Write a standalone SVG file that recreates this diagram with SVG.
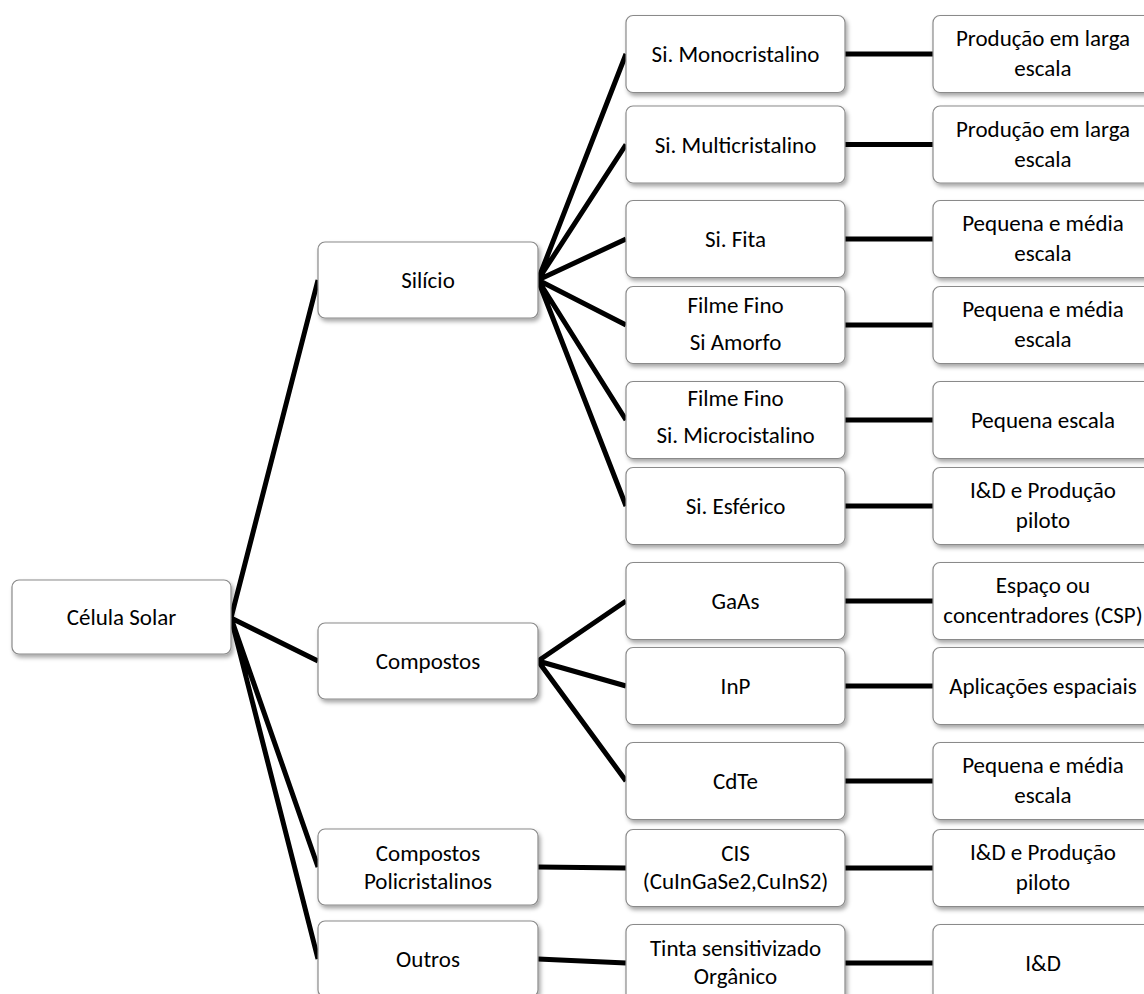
<svg xmlns="http://www.w3.org/2000/svg" width="1144" height="994" viewBox="0 0 1144 994">
<defs>
<filter id="sh" x="-10%" y="-10%" width="125%" height="130%">
<feDropShadow dx="2" dy="3" stdDeviation="2" flood-color="#000" flood-opacity="0.35"/>
</filter>
<style>
.box{fill:#fff;stroke:#8a8a8a;stroke-width:1.2;filter:url(#sh)}
.t{font-family:Carlito,Lato,"Liberation Sans",sans-serif;font-size:23px;fill:#000;text-anchor:middle}
.c{stroke:#000;stroke-width:5;fill:none;stroke-linecap:butt}
</style>
</defs>
<rect width="1144" height="994" fill="#fff"/>
<g id="connectors">
<path class="c" d="M231 618L318 280M231 618L318 661M231 618L318 867M231 618L318 959"/>
<path class="c" d="M538 280L626 54M538 280L626 144.5M538 280L626 239M538 280L626 325M538 280L626 420M538 280L626 506"/>
<path class="c" d="M538 661L626 601M538 661L626 686M538 661L626 781"/>
<path class="c" d="M538 867L626 868M538 959L626 963"/>
<path class="c" d="M845 54H933M845 144.5H933M845 239H933M845 325H933M845 420H933M845 506H933M845 601H933M845 686H933M845 781H933M845 868H933M845 963H933"/>
</g>
<g id="celula"><rect class="box" x="12" y="580" width="219" height="74" rx="7"/><text class="t" x="121.5" y="625">Célula Solar</text></g>
<g id="silicio"><rect class="box" x="318" y="242" width="220" height="76" rx="7"/><text class="t" x="428" y="288">Silício</text></g>
<g id="compostos"><rect class="box" x="318" y="623" width="220" height="76" rx="7"/><text class="t" x="428" y="669">Compostos</text></g>
<g id="compostos-poli"><rect class="box" x="318" y="829" width="220" height="76" rx="7"/><text class="t" x="428" y="861">Compostos</text><text class="t" x="428" y="889">Policristalinos</text></g>
<g id="outros"><rect class="box" x="318" y="921" width="220" height="76" rx="7"/><text class="t" x="428" y="967">Outros</text></g>

<g id="mono"><rect class="box" x="626" y="15.5" width="219" height="77" rx="7"/><text class="t" x="735.5" y="62">Si. Monocristalino</text></g>
<g id="multi"><rect class="box" x="626" y="106" width="219" height="77" rx="7"/><text class="t" x="735.5" y="152.5">Si. Multicristalino</text></g>
<g id="fita"><rect class="box" x="626" y="200.5" width="219" height="77" rx="7"/><text class="t" x="735.5" y="247">Si. Fita</text></g>
<g id="amorfo"><rect class="box" x="626" y="286.5" width="219" height="77" rx="7"/><text class="t" x="735.5" y="313">Filme Fino</text><text class="t" x="735.5" y="350">Si Amorfo</text></g>
<g id="micro"><rect class="box" x="626" y="381.5" width="219" height="77" rx="7"/><text class="t" x="735.5" y="406">Filme Fino</text><text class="t" x="735.5" y="443">Si. Microcistalino</text></g>
<g id="esferico"><rect class="box" x="626" y="467.5" width="219" height="77" rx="7"/><text class="t" x="735.5" y="514">Si. Esférico</text></g>
<g id="gaas"><rect class="box" x="626" y="562.5" width="219" height="77" rx="7"/><text class="t" x="735.5" y="609">GaAs</text></g>
<g id="inp"><rect class="box" x="626" y="647.5" width="219" height="77" rx="7"/><text class="t" x="735.5" y="694">InP</text></g>
<g id="cdte"><rect class="box" x="626" y="742.5" width="219" height="77" rx="7"/><text class="t" x="735.5" y="789">CdTe</text></g>
<g id="cis"><rect class="box" x="626" y="829.5" width="219" height="77" rx="7"/><text class="t" x="735.5" y="861">CIS</text><text class="t" x="735.5" y="889">(CuInGaSe2,CuInS2)</text></g>
<g id="tinta"><rect class="box" x="626" y="924.5" width="219" height="77" rx="7"/><text class="t" x="735.5" y="956">Tinta sensitivizado</text><text class="t" x="735.5" y="984">Orgânico</text></g>

<g id="r-mono"><rect class="box" x="933" y="15.5" width="220" height="77" rx="7"/><text class="t" x="1043" y="46">Produção em larga</text><text class="t" x="1043" y="76">escala</text></g>
<g id="r-multi"><rect class="box" x="933" y="106" width="220" height="77" rx="7"/><text class="t" x="1043" y="136.5">Produção em larga</text><text class="t" x="1043" y="166.5">escala</text></g>
<g id="r-fita"><rect class="box" x="933" y="200.5" width="220" height="77" rx="7"/><text class="t" x="1043" y="231">Pequena e média</text><text class="t" x="1043" y="261">escala</text></g>
<g id="r-amorfo"><rect class="box" x="933" y="286.5" width="220" height="77" rx="7"/><text class="t" x="1043" y="317">Pequena e média</text><text class="t" x="1043" y="347">escala</text></g>
<g id="r-micro"><rect class="box" x="933" y="381.5" width="220" height="77" rx="7"/><text class="t" x="1043" y="428">Pequena escala</text></g>
<g id="r-esferico"><rect class="box" x="933" y="467.5" width="220" height="77" rx="7"/><text class="t" x="1043" y="498">I&amp;D e Produção</text><text class="t" x="1043" y="528">piloto</text></g>
<g id="r-gaas"><rect class="box" x="933" y="562.5" width="220" height="77" rx="7"/><text class="t" x="1043" y="593">Espaço ou</text><text class="t" x="1043" y="623">concentradores (CSP)</text></g>
<g id="r-inp"><rect class="box" x="933" y="647.5" width="220" height="77" rx="7"/><text class="t" x="1043" y="694">Aplicações espaciais</text></g>
<g id="r-cdte"><rect class="box" x="933" y="742.5" width="220" height="77" rx="7"/><text class="t" x="1043" y="773">Pequena e média</text><text class="t" x="1043" y="803">escala</text></g>
<g id="r-cis"><rect class="box" x="933" y="829.5" width="220" height="77" rx="7"/><text class="t" x="1043" y="860">I&amp;D e Produção</text><text class="t" x="1043" y="890">piloto</text></g>
<g id="r-tinta"><rect class="box" x="933" y="924.5" width="220" height="77" rx="7"/><text class="t" x="1043" y="971">I&amp;D</text></g>
</svg>
